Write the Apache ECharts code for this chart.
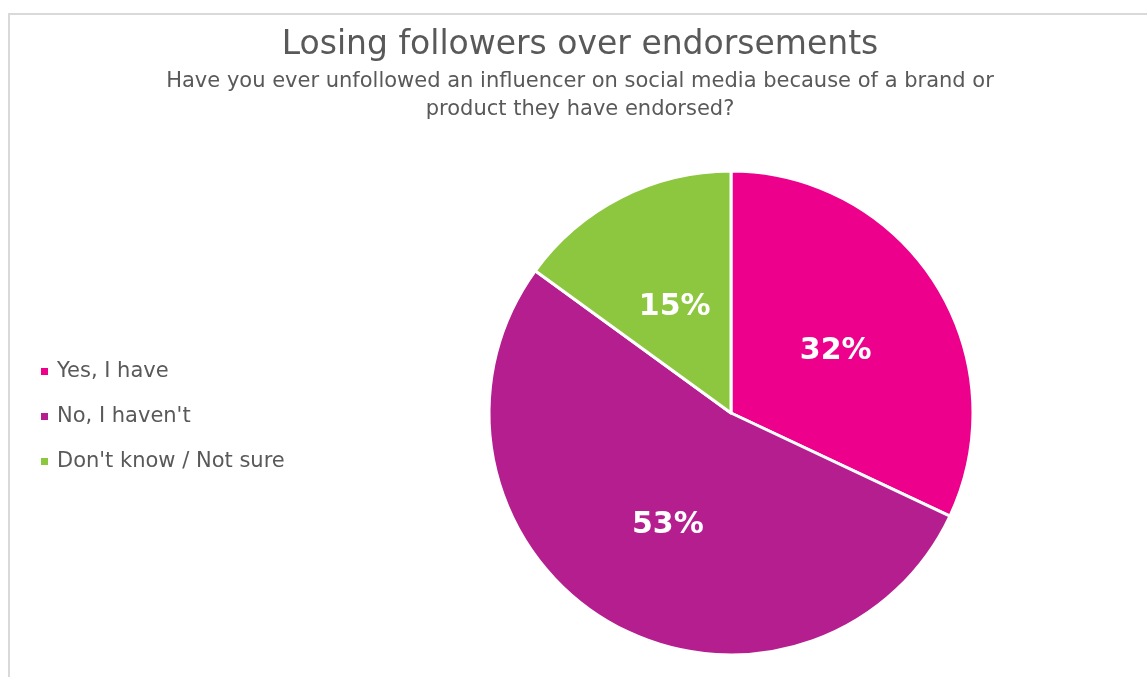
<!DOCTYPE html>
<html><head><meta charset="utf-8">
<script src="https://cdn.jsdelivr.net/npm/echarts@6/dist/echarts.min.js"></script>
<style>html,body{margin:0;padding:0;background:#fff}#c{width:1147px;height:677px}</style>
</head><body><div id="c"></div>
<script>
const categories = ["Yes, I have", "No, I haven't", "Don't know / Not sure"];
const values = [32, 53, 15];
const colors = ["#EC008C", "#B41E8E", "#8DC63F"];
const titleText = "Losing followers over endorsements";
const subtitleText = "Have you ever unfollowed an influencer on social media because of a brand or\nproduct they have endorsed?";

const chart = echarts.init(document.getElementById('c'));
const font = "Tahoma, 'DejaVu Sans', Verdana, sans-serif";
chart.setOption({
  backgroundColor: '#fff',
  graphic: [{
    type: 'rect', shape: {x: 9, y: 14, width: 1200, height: 700},
    style: {fill: 'none', stroke: '#d9d9d9', lineWidth: 2}, silent: true, z: -1
  }],
  title: {
    text: titleText, subtext: subtitleText, left: 575, textAlign: 'center', top: 24,
    textStyle: {fontFamily: font, fontSize: 33, fontWeight: 'normal', color: '#595959'},
    subtextStyle: {fontFamily: font, fontSize: 21, color: '#595959', lineHeight: 28},
    itemGap: 6
  },
  legend: {
    orient: 'vertical', left: 34, top: 356, itemGap: 24, itemWidth: 9, itemHeight: 9,
    icon: 'rect',
    textStyle: {fontFamily: font, fontSize: 21, color: '#595959', padding: [0, 0, 0, 3]},
    data: categories
  },
  series: [{
    type: 'pie', center: [731, 413], radius: 242, startAngle: 90, clockwise: true,
    animation: false,
    itemStyle: {borderColor: '#fff', borderWidth: 3},
    label: {show: true, position: 'inside', formatter: '{c}%', color: '#fff',
      fontFamily: font, fontSize: 30, fontWeight: 'bold'},
    labelLayout: {dy: 5},
    labelLine: {show: false},
    emphasis: {disabled: true},
    data: categories.map((n, i) => ({name: n, value: values[i], itemStyle: {color: colors[i]}}))
  }]
});
</script></body></html>
